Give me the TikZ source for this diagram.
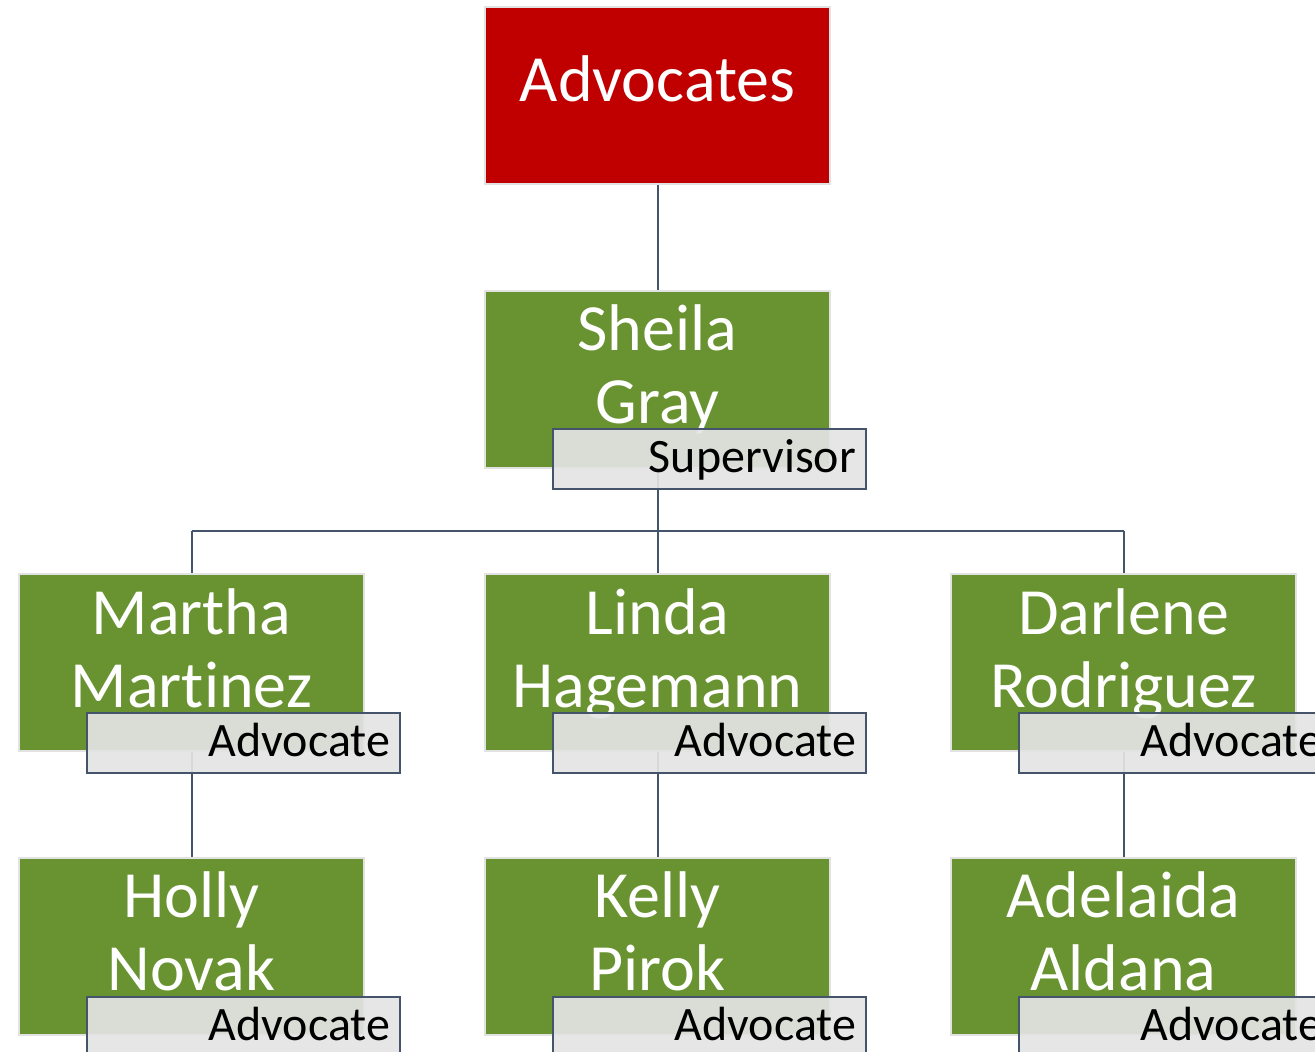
\documentclass[tikz,border=0pt]{standalone}
\usepackage{fontspec}
\setmainfont{Carlito}[Ligatures=NoCommon]
\definecolor{headred}{RGB}{192,0,0}
\definecolor{staffgreen}{RGB}{105,147,49}
\definecolor{edgegray}{RGB}{226,226,226}
\definecolor{slate}{RGB}{68,84,106}
\definecolor{tagfill}{RGB}{228,228,228}
\tikzset{
  box/.style={draw=edgegray, line width=2pt, minimum width=345pt, minimum height=177pt, inner sep=0pt},
  head/.style={box, fill=headred},
  person/.style={box, fill=staffgreen},
  nametxt/.style={text=white, align=center, inner sep=0pt, font=\fontsize{66pt}{73pt}\selectfont},
  tag/.style={draw=slate, line width=2pt, fill=tagfill, fill opacity=0.92, text opacity=1,
    minimum width=313pt, minimum height=60pt, text width=293pt, inner xsep=10pt, inner ysep=0pt,
    align=right, text height=33pt, text depth=7pt, font=\fontsize{48pt}{54pt}\selectfont},
  link/.style={draw=slate, line width=2pt}
}
\begin{document}
\begin{tikzpicture}[x=1pt,y=-1pt]
\useasboundingbox (0,0) rectangle (1315,1052);
\clip (0,0) rectangle (1315,1052);
% junction points of the horizontal bus
\coordinate (bus) at (657.5,531);
\coordinate (busL) at (191.5,531);
\coordinate (busR) at (1123.5,531);
% boxes
\node[head] (adv) at (657.5,95.5) {};
\node[person] (sg) at (657.5,379) {};
\node[person] (mm) at (191.5,662.5) {};
\node[person] (lh) at (657.5,662.5) {};
\node[person] (dr) at (1123.5,662.5) {};
\node[person] (hn) at (191.5,946.5) {};
\node[person] (kp) at (657.5,946.5) {};
\node[person] (aa) at (1123.5,946.5) {};
% reporting lines
\draw[link] (adv.south) -- (sg.north);
\draw[link] (sg.south) -- (bus);
\draw[link] (busL) -- (busR);
\draw[link] (busL) -- (mm.north);
\draw[link] (bus) -- (lh.north);
\draw[link] (busR) -- (dr.north);
\draw[link] (mm.south) -- (hn.north);
\draw[link] (lh.south) -- (kp.north);
\draw[link] (dr.south) -- (aa.north);
% names (anchored at the baseline of the second line)
\node[text=white, inner sep=0pt, anchor=base, font=\fontsize{66pt}{73pt}\selectfont] (adv-t) at (657.5,101.5) {Advocates};
\node[nametxt, anchor=base] (sg-t) at (657.5,423) {Sheila\\Gray};
\node[nametxt, anchor=base] (mm-t) at (191.5,707) {Martha\\Martinez};
\node[nametxt, anchor=base] (lh-t) at (657.5,707) {Linda\\Hagemann};
\node[nametxt, anchor=base] (dr-t) at (1123.5,707) {Darlene\\Rodriguez};
\node[nametxt, anchor=base] (hn-t) at (191.5,990) {Holly\\Novak};
\node[nametxt, anchor=base] (kp-t) at (657.5,990) {Kelly\\Pirok};
\node[nametxt, anchor=base] (aa-t) at (1123.5,990) {Adelaida\\Aldana};
% role tags
\node[tag] (sg-r) at (709.5,459) {Supervisor};
\node[tag] (mm-r) at (243.5,743) {Advocate};
\node[tag] (lh-r) at (709.5,743) {Advocate};
\node[tag] (dr-r) at (1175.5,743) {Advocate};
\node[tag] (hn-r) at (243.5,1027) {Advocate};
\node[tag] (kp-r) at (709.5,1027) {Advocate};
\node[tag] (aa-r) at (1175.5,1027) {Advocate};
\end{tikzpicture}
\end{document}
